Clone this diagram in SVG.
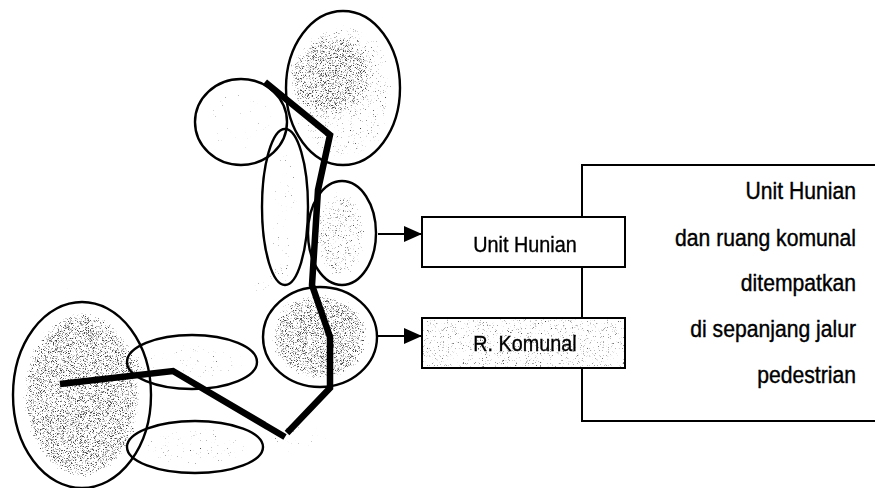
<svg xmlns="http://www.w3.org/2000/svg" width="875" height="488" viewBox="0 0 875 488">
<style>
  .ell { fill: none; stroke: #000; stroke-width: 2.4; }
  .box { stroke: #000; stroke-width: 2; }
  .path { fill: none; stroke: #000; stroke-width: 6.5; stroke-linejoin: miter; stroke-linecap: butt; }
  .lbl { font-family: "Liberation Sans", Arial, sans-serif; font-size: 22px; fill: #000; stroke: #000; stroke-width: 0.35; text-anchor: middle; }
  .txt { font-family: "Liberation Sans", Arial, sans-serif; font-size: 23.5px; fill: #000; stroke: #000; stroke-width: 0.4; text-anchor: end; }
  .conn { stroke: #000; stroke-width: 2; fill: none; }
</style>
<defs>
  <filter id="stip" filterUnits="userSpaceOnUse" x="0" y="0" width="875" height="488">
    <feGaussianBlur in="SourceGraphic" stdDeviation="5" result="sa"/>
    <feTurbulence type="fractalNoise" baseFrequency="1.6" numOctaves="2" seed="7" result="n"/>
    <feColorMatrix in="n" type="matrix" values="0 0 0 0 0  0 0 0 0 0  0 0 0 0 0  1 0 0 0 0" result="na"/>
    <feComposite in="sa" in2="na" operator="arithmetic" k1="0" k2="5" k3="5" k4="-7.6" result="m"/>
    <feFlood flood-color="#444"/>
    <feComposite in2="m" operator="in"/>
  </filter>
  <filter id="stip2" filterUnits="userSpaceOnUse" x="0" y="0" width="875" height="488">
    <feTurbulence type="fractalNoise" baseFrequency="1.6" numOctaves="2" seed="11" result="n"/>
    <feColorMatrix in="n" type="matrix" values="0 0 0 0 0  0 0 0 0 0  0 0 0 0 0  1 0 0 0 0" result="na"/>
    <feComposite in="SourceGraphic" in2="na" operator="arithmetic" k1="0" k2="5" k3="5" k4="-8.2" result="m"/>
    <feFlood flood-color="#555"/>
    <feComposite in2="m" operator="in"/>
  </filter>
  <marker id="arr" viewBox="0 0 18 16" refX="18" refY="8" markerWidth="18" markerHeight="16" markerUnits="userSpaceOnUse" orient="auto">
    <path d="M0,0 L18,8 L0,16 Z" fill="#000"/>
  </marker>
</defs>

<!-- stippled shading -->
<g id="shading" filter="url(#stip)" fill="#000">
  <ellipse cx="343" cy="92" rx="56" ry="72" opacity="0.86"/>
  <ellipse cx="330" cy="75" rx="42" ry="38" opacity="1"/>
  <ellipse cx="241" cy="122" rx="40" ry="38" opacity="0.76"/>
  <ellipse cx="286" cy="210" rx="20" ry="70" opacity="0.8"/>
  <ellipse cx="340" cy="235" rx="30" ry="48" opacity="0.9"/>
  <ellipse cx="320" cy="337" rx="52" ry="46" opacity="1"/>
  <ellipse cx="82" cy="395" rx="62" ry="86" opacity="1"/>
  <ellipse cx="192" cy="362" rx="60" ry="24" opacity="0.8"/>
  <ellipse cx="195" cy="447" rx="60" ry="24" opacity="0.82"/>
  <ellipse cx="300" cy="440" rx="38" ry="22" opacity="0.78"/>
  <ellipse cx="265" cy="285" rx="30" ry="22" opacity="0.78"/>
  <ellipse cx="80" cy="290" rx="35" ry="15" opacity="0.72"/>
  <ellipse cx="280" cy="60" rx="12" ry="25" opacity="0.72"/>
</g>

<!-- pedestrian route and arrows -->
<g id="connectors">
  <polyline class="path" points="60,384 173,371 285,437"/>
  <polyline class="path" points="287,433 330,388 330,337 312,285 318,190 330,135 265,82"/>
  <line class="conn" x1="378" y1="234" x2="422" y2="234" marker-end="url(#arr)"/>
  <line class="conn" x1="378" y1="336" x2="422" y2="336" marker-end="url(#arr)"/>
</g>

<g id="clusters">
  <ellipse class="ell" cx="343" cy="88" rx="57" ry="77"/>
  <ellipse class="ell" cx="241" cy="122" rx="46" ry="43"/>
  <ellipse class="ell" cx="285" cy="207" rx="23" ry="78"/>
  <ellipse class="ell" cx="342" cy="233" rx="34" ry="52"/>
  <ellipse class="ell" cx="320" cy="337" rx="57" ry="50"/>
  <ellipse class="ell" cx="82" cy="395" rx="69" ry="93"/>
  <ellipse class="ell" cx="192" cy="362" rx="65" ry="27"/>
  <ellipse class="ell" cx="195" cy="447" rx="68" ry="26"/>
</g>

<g id="description">
  <rect class="box" x="582" y="165" width="310" height="256" fill="#fff"/>
  <g transform="translate(856,0) scale(0.9,1) translate(-856,0)">
    <text class="txt" x="856" y="199">Unit Hunian</text>
    <text class="txt" x="856" y="246">dan ruang komunal</text>
    <text class="txt" x="856" y="291">ditempatkan</text>
    <text class="txt" x="856" y="337">di sepanjang jalur</text>
    <text class="txt" x="856" y="383">pedestrian</text>
  </g>
</g>

<g id="unit-hunian">
  <rect class="box" x="422" y="217" width="203" height="50" fill="#fff"/>
  <text class="lbl" x="525" y="252" transform="translate(525,0) scale(0.9,1) translate(-525,0)">Unit Hunian</text>
</g>

<g id="r-komunal">
  <rect class="box" x="422" y="318" width="203" height="50" fill="#fff"/>
  <rect x="423" y="319" width="201" height="48" fill="#000" filter="url(#stip2)"/>
  <text class="lbl" x="525" y="351" transform="translate(525,0) scale(0.9,1) translate(-525,0)">R. Komunal</text>
</g>
</svg>
